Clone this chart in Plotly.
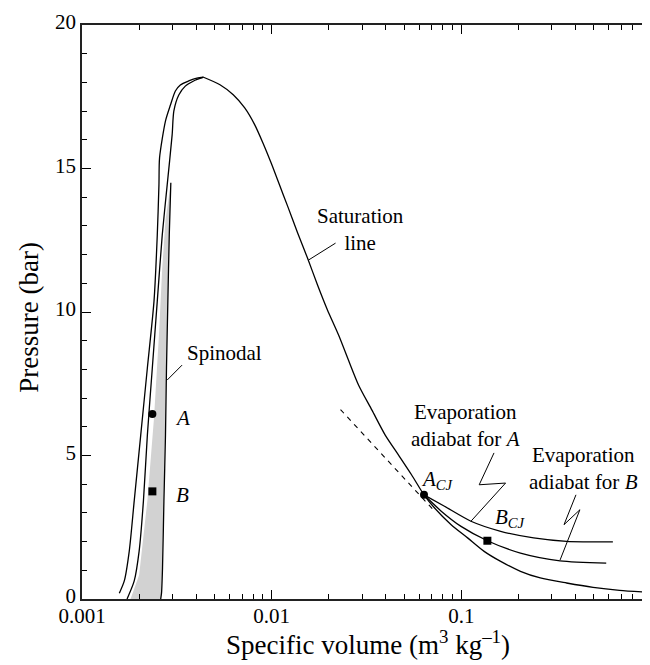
import math
import plotly.graph_objects as go

# ---------------- data (specific volume m3/kg, pressure bar) ----------------
# outer saturation line, liquid branch (bottom -> critical point)
liq_outer_v = [0.001573, 0.001671, 0.001775, 0.001885, 0.002040, 0.002211, 0.002397,
               0.002494, 0.002545, 0.002564, 0.002756, 0.002926, 0.003107, 0.003300,
               0.003651, 0.004035, 0.004372]
liq_outer_p = [0.20, 0.63, 1.67, 3.42, 5.71, 8.05, 10.38,
               12.68, 14.43, 15.37, 16.66, 17.21, 17.70, 17.91,
               18.05, 18.15, 18.18]

# inner line (bottom -> critical point)
liq_inner_v = [0.001728, 0.001885, 0.002001, 0.002108, 0.002211, 0.002348, 0.002494,
               0.002649, 0.002813, 0.002987, 0.003049, 0.003238, 0.003504, 0.003877,
               0.004372]
liq_inner_p = [0.0, 0.63, 1.67, 3.42, 5.71, 8.05, 10.38,
               12.68, 14.43, 16.17, 17.00, 17.56, 17.87, 18.05,
               18.18]

# saturation line, vapour branch (critical point -> right)
vap_v = [0.004372, 0.005339, 0.006271, 0.007211, 0.008133, 0.008995, 0.00994, 0.01098,
         0.01215, 0.01371, 0.01545, 0.01743, 0.01966, 0.02259, 0.02548, 0.02874,
         0.03378, 0.03962, 0.04649, 0.05462, 0.06356, 0.07228, 0.08836, 0.1079,
         0.1319, 0.1612, 0.2050, 0.2608, 0.3590, 0.4949, 0.6823, 0.9587]
vap_p = [18.18, 17.92, 17.57, 17.11, 16.53, 15.89, 15.19, 14.44,
         13.68, 12.75, 11.88, 10.95, 10.08, 9.18, 8.30, 7.45,
         6.58, 5.72, 5.03, 4.33, 3.63, 3.17, 2.59, 2.13,
         1.66, 1.31, 0.965, 0.732, 0.557, 0.408, 0.303, 0.233]

# spinodal (tip -> bottom)
spin_v = [0.002940, 0.002885, 0.002836, 0.002789, 0.002755, 0.002703, 0.002658, 0.002626, 0.002600]
spin_p = [14.50, 12.68, 10.38, 8.05, 5.71, 3.41, 1.08, 0.21, 0.0]

# left edge of the shaded metastable region (bottom -> tip)
meta_v = [0.001803, 0.002001, 0.002211, 0.002397, 0.002545, 0.002649, 0.002755, 0.002870, 0.002940]
meta_p = [0.0, 0.84, 3.42, 6.31, 9.20, 11.53, 13.20, 14.10, 14.50]

# evaporation adiabats
adA_v = [0.06356, 0.0815, 0.1124, 0.1612, 0.2406, 0.3590, 0.6295]
adA_p = [3.63, 3.23, 2.71, 2.36, 2.13, 2.01, 1.99]
adB_v = [0.06356, 0.07834, 0.09963, 0.1372, 0.2050, 0.3316, 0.5807]
adB_p = [3.63, 3.06, 2.53, 2.03, 1.60, 1.33, 1.25]

# dashed (Rayleigh) line
ray_v = [0.02307, 0.07228]
ray_p = [6.60, 3.06]

# state points
A_v, A_p = [0.00235], [6.45]
B_v, B_p = [0.00235], [3.75]
ACJ_v, ACJ_p = [0.06356], [3.63]
BCJ_v, BCJ_p = [0.1372], [2.03]

# leader lines
sat_lead_v, sat_lead_p = [0.02172, 0.01564], [12.40, 11.81]
spin_lead_v, spin_lead_p = [0.003370, 0.002813], [8.15, 7.63]
zigA_v, zigA_p = [0.1487, 0.1242, 0.1711, 0.1124], [5.09, 3.98, 4.04, 2.71]
zigB_v, zigB_p = [0.4021, 0.3479, 0.4218, 0.3316], [3.63, 2.59, 3.11, 1.36]

x_tickvals = [0.001, 0.01, 0.1, 1]
x_ticktext = ["0.001", "0.01", "0.1", "1"]
y_tickvals = [0, 5, 10, 15, 20]

FONT = "Liberation Serif"
LW = 1.3

fig = go.Figure()

# shaded metastable region
fig.add_trace(go.Scatter(x=meta_v + spin_v, y=meta_p + spin_p, mode="lines",
                         fill="toself", fillcolor="#d2d2d2",
                         line=dict(width=0, color="rgba(0,0,0,0)"), hoverinfo="skip"))

def line(x, y, dash="solid", w=LW, smooth=True):
    ln = dict(color="black", width=w, dash=dash)
    if smooth:
        ln.update(shape="spline", smoothing=0.7)
    fig.add_trace(go.Scatter(x=x, y=y, mode="lines", line=ln, hoverinfo="skip"))

line(liq_outer_v, liq_outer_p)
line(vap_v, vap_p)
line(liq_inner_v, liq_inner_p)
line(spin_v, spin_p)
line(adA_v, adA_p)
line(adB_v, adB_p)
line(ray_v, ray_p, dash="5px,5px", w=1.1, smooth=False)
line(sat_lead_v, sat_lead_p, w=1, smooth=False)
line(spin_lead_v, spin_lead_p, w=1, smooth=False)
line(zigA_v, zigA_p, w=1, smooth=False)
line(zigB_v, zigB_p, w=1, smooth=False)

fig.add_trace(go.Scatter(x=A_v + ACJ_v, y=A_p + ACJ_p, mode="markers",
                         marker=dict(symbol="circle", size=8, color="black")))
fig.add_trace(go.Scatter(x=B_v + BCJ_v, y=B_p + BCJ_p, mode="markers",
                         marker=dict(symbol="square", size=8, color="black")))

def note(text, v, p, size=21):
    fig.add_annotation(x=math.log10(v), y=p, xref="x", yref="y", text=text,
                       showarrow=False, align="center", xanchor="center", yanchor="middle",
                       font=dict(family=FONT, size=size, color="black"))

note("Saturation<br>line", 0.0295, 12.87)
note("Spinodal", 0.005649, 8.57)
note("<i>A</i>", 0.003370, 6.31)
note("<i>B</i>", 0.003370, 3.62)
note("<i>A<sub>CJ</sub></i>", 0.07492, 4.15)
note("<i>B<sub>CJ</sub></i>", 0.1818, 2.82)
note("Evaporation<br>adiabat for <i>A</i>", 0.1058, 6.03)
note("Evaporation<br>adiabat for <i>B</i>", 0.4388, 4.53)

# axis titles
fig.add_annotation(x=0.503, y=-0.076, xref="paper", yref="paper",
                   text="Specific volume (m<sup>3</sup> kg<sup>\u20131</sup>)",
                   showarrow=False, xanchor="center", yanchor="middle",
                   font=dict(family=FONT, size=27, color="black"))
fig.add_annotation(x=-0.092, y=0.491, xref="paper", yref="paper",
                   text="Pressure (bar)", textangle=-90,
                   showarrow=False, xanchor="center", yanchor="middle",
                   font=dict(family=FONT, size=27, color="black"))

fig.update_layout(
    width=650, height=665,
    margin=dict(l=74, r=2, t=17, b=74),
    paper_bgcolor="white", plot_bgcolor="white",
    showlegend=False,
    font=dict(family=FONT, size=21, color="black"),
    xaxis=dict(type="log", range=[-3, 0], tickmode="array",
               tickvals=x_tickvals, ticktext=x_ticktext,
               ticks="inside", ticklen=9, tickwidth=1.2, tickcolor="black",
               minor=dict(ticks="inside", ticklen=5, tickwidth=1, tickcolor="black",
                          tickmode="array",
                          tickvals=[m * 10 ** e for e in (-3, -2, -1) for m in range(2, 10)]),
               showline=True, linecolor="#222", linewidth=1.5, mirror="allticks",
               showgrid=False, zeroline=False, ticklabeloverflow="allow",
               ticklabelstandoff=-3,
               tickfont=dict(family=FONT, size=21, color="black")),
    yaxis=dict(range=[0, 20], tickmode="array", tickvals=y_tickvals,
               ticks="inside", ticklen=9, tickwidth=1.2, tickcolor="black",
               minor=dict(ticks="inside", ticklen=5, tickwidth=1, tickcolor="black", dtick=1),
               showline=True, linecolor="#222", linewidth=1.5, mirror="allticks",
               showgrid=False, zeroline=False, ticklabeloverflow="allow",
               ticklabelshift=-3,
               tickfont=dict(family=FONT, size=21, color="black")),
)

fig.write_html("out.html")
